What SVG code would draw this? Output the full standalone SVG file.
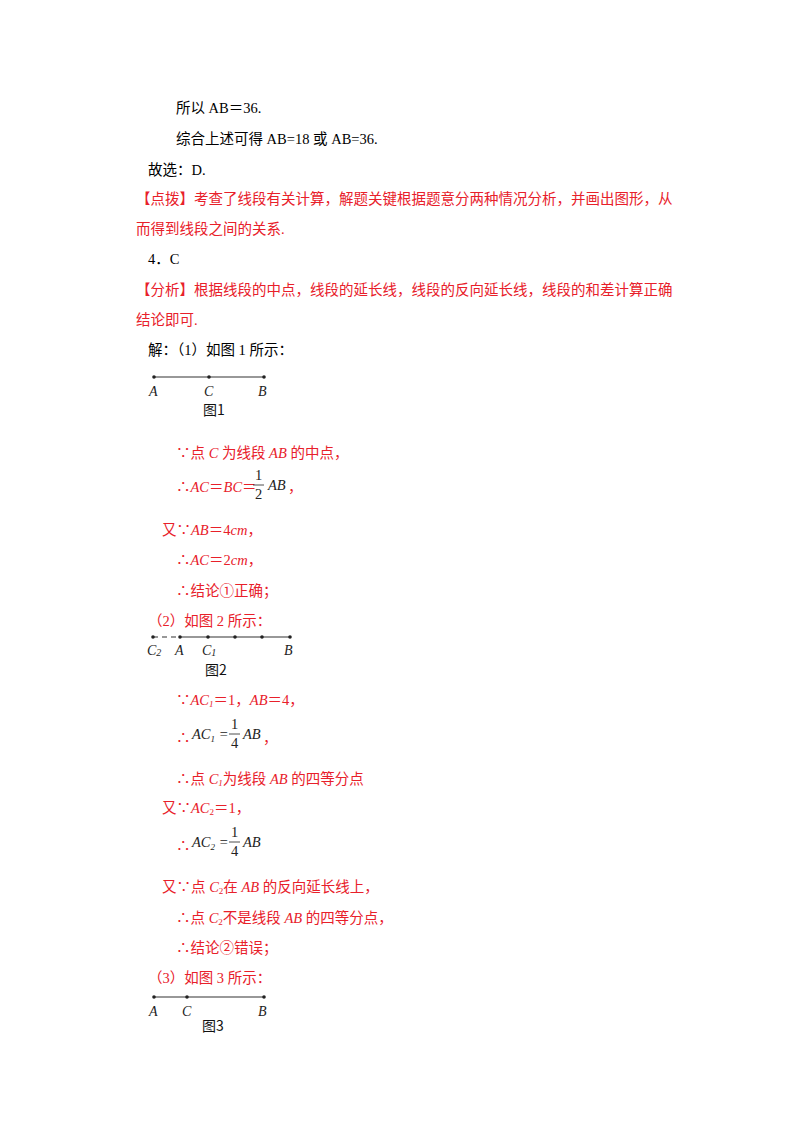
<svg xmlns="http://www.w3.org/2000/svg" width="800" height="1132" viewBox="0 0 800 1132">
<style>
text{font-family:"Liberation Serif","Noto Sans CJK SC",serif;font-size:14.5px}
.k{fill:#000}.r{fill:#e8202a}
.i{font-style:italic}
.m{font-family:"Liberation Serif",serif;font-style:italic;fill:#222}
.n{font-family:"Liberation Serif",serif;fill:#222}
.lb{font-family:"Liberation Serif",serif;font-style:italic;font-size:14px;fill:#222}
.fg{font-family:"Noto Sans CJK SC",sans-serif;font-size:14px;fill:#111}
line.s{stroke:#333;stroke-width:1.2}
circle{fill:#222}
</style>
<rect width="800" height="1132" fill="#fff"/>
<text x="176" y="113" class="k">所以 AB＝36.</text>
<text x="176" y="144" class="k">综合上述可得 AB=18 或 AB=36.</text>
<text x="148" y="175" class="k">故选：D.</text>
<text x="136" y="204" class="r">【点拨】考查了线段有关计算，解题关键根据题意分两种情况分析，并画出图形，从</text>
<text x="136" y="234" class="r">而得到线段之间的关系.</text>
<text x="148" y="264" class="k">4．C</text>
<text x="136" y="295" class="r">【分析】根据线段的中点，线段的延长线，线段的反向延长线，线段的和差计算正确</text>
<text x="136" y="325" class="r">结论即可.</text>
<text x="148" y="355" class="k">解：（1）如图 1 所示：</text>
<g id="fig1">
<line class="s" x1="154" y1="377" x2="264" y2="377"/>
<circle cx="154" cy="377" r="1.8"/><circle cx="209" cy="377" r="1.8"/><circle cx="264" cy="377" r="1.8"/>
<text x="149" y="396" class="lb">A</text><text x="204" y="396" class="lb">C</text><text x="258" y="396" class="lb">B</text>
<text x="203" y="415" class="fg">图1</text>
</g>
<text x="176" y="458" class="r">∵点 <tspan class="i">C</tspan> 为线段 <tspan class="i">AB</tspan> 的中点，</text>
<text x="176" y="492" class="r">∴<tspan class="i">AC</tspan>＝<tspan class="i">BC</tspan>＝</text>
<text x="255" y="480" class="n" font-size="13">1</text>
<line x1="253" y1="485" x2="264" y2="485" stroke="#222" stroke-width="0.8"/>
<text x="255" y="499" class="n" font-size="13">2</text>
<text x="268" y="490" class="m" font-size="13">AB</text>
<text x="288" y="492" class="r">，</text>
<text x="162" y="535" class="r">又∵<tspan class="i">AB</tspan>＝4<tspan class="i">cm</tspan>，</text>
<text x="176" y="565" class="r">∴<tspan class="i">AC</tspan>＝2<tspan class="i">cm</tspan>，</text>
<text x="176" y="596" class="r">∴结论①正确；</text>
<text x="148" y="626" class="r">（2）如图 2 所示：</text>
<g id="fig2">
<line x1="153" y1="637" x2="180" y2="637" stroke="#333" stroke-width="1.2" stroke-dasharray="5,4"/>
<line class="s" x1="180" y1="637" x2="290" y2="637"/>
<circle cx="153" cy="637" r="1.8"/><circle cx="180" cy="637" r="1.8"/><circle cx="208" cy="637" r="1.8"/><circle cx="235" cy="637" r="1.8"/><circle cx="262" cy="637" r="1.8"/><circle cx="290" cy="637" r="1.8"/>
<text x="147" y="655" class="lb">C<tspan font-size="10" dy="1">2</tspan></text>
<text x="175" y="655" class="lb">A</text>
<text x="202" y="655" class="lb">C<tspan font-size="10" dy="1">1</tspan></text>
<text x="284" y="655" class="lb">B</text>
<text x="205" y="675" class="fg">图2</text>
</g>
<text x="176" y="705" class="r">∵<tspan class="i">AC</tspan><tspan class="i" font-size="9" dy="2">1</tspan><tspan dy="-2">＝1，</tspan><tspan class="i">AB</tspan>＝4，</text>
<text x="176" y="743" class="r">∴</text>
<text x="192" y="739" class="m">AC<tspan class="n" font-size="9" dy="3">1</tspan><tspan class="n" dy="-3"> = </tspan></text>
<text x="231" y="729" class="n" font-size="13">1</text>
<line x1="229" y1="734" x2="240" y2="734" stroke="#222" stroke-width="0.8"/>
<text x="231" y="748" class="n" font-size="13">4</text>
<text x="243" y="739" class="m">AB</text>
<text x="263" y="743" class="r">，</text>
<text x="176" y="784" class="r">∴点 <tspan class="i">C<tspan font-size="9" dy="2">1</tspan></tspan><tspan dy="-2">为线段 </tspan><tspan class="i">AB</tspan> 的四等分点</text>
<text x="162" y="813" class="r">又∵<tspan class="i">AC</tspan><tspan font-size="9" dy="2">2</tspan><tspan dy="-2">＝1，</tspan></text>
<text x="176" y="851" class="r">∴</text>
<text x="192" y="847" class="m">AC<tspan class="n" font-size="9" dy="3">2</tspan><tspan class="n" dy="-3"> = </tspan></text>
<text x="231" y="837" class="n" font-size="13">1</text>
<line x1="229" y1="842" x2="240" y2="842" stroke="#222" stroke-width="0.8"/>
<text x="231" y="856" class="n" font-size="13">4</text>
<text x="243" y="847" class="m">AB</text>
<text x="162" y="892" class="r">又∵点 <tspan class="i">C</tspan><tspan font-size="9" dy="2">2</tspan><tspan dy="-2">在 </tspan><tspan class="i">AB</tspan> 的反向延长线上，</text>
<text x="176" y="923" class="r">∴点 <tspan class="i">C</tspan><tspan font-size="9" dy="2">2</tspan><tspan dy="-2">不是线段 </tspan><tspan class="i">AB</tspan> 的四等分点，</text>
<text x="176" y="953" class="r">∴结论②错误；</text>
<text x="148" y="983" class="r">（3）如图 3 所示：</text>
<g id="fig3">
<line class="s" x1="154" y1="997" x2="264" y2="997"/>
<circle cx="154" cy="997" r="1.8"/><circle cx="187" cy="997" r="1.8"/><circle cx="264" cy="997" r="1.8"/>
<text x="149" y="1016" class="lb">A</text><text x="182" y="1016" class="lb">C</text><text x="258" y="1016" class="lb">B</text>
<text x="202" y="1031" class="fg">图3</text>
</g>
</svg>
